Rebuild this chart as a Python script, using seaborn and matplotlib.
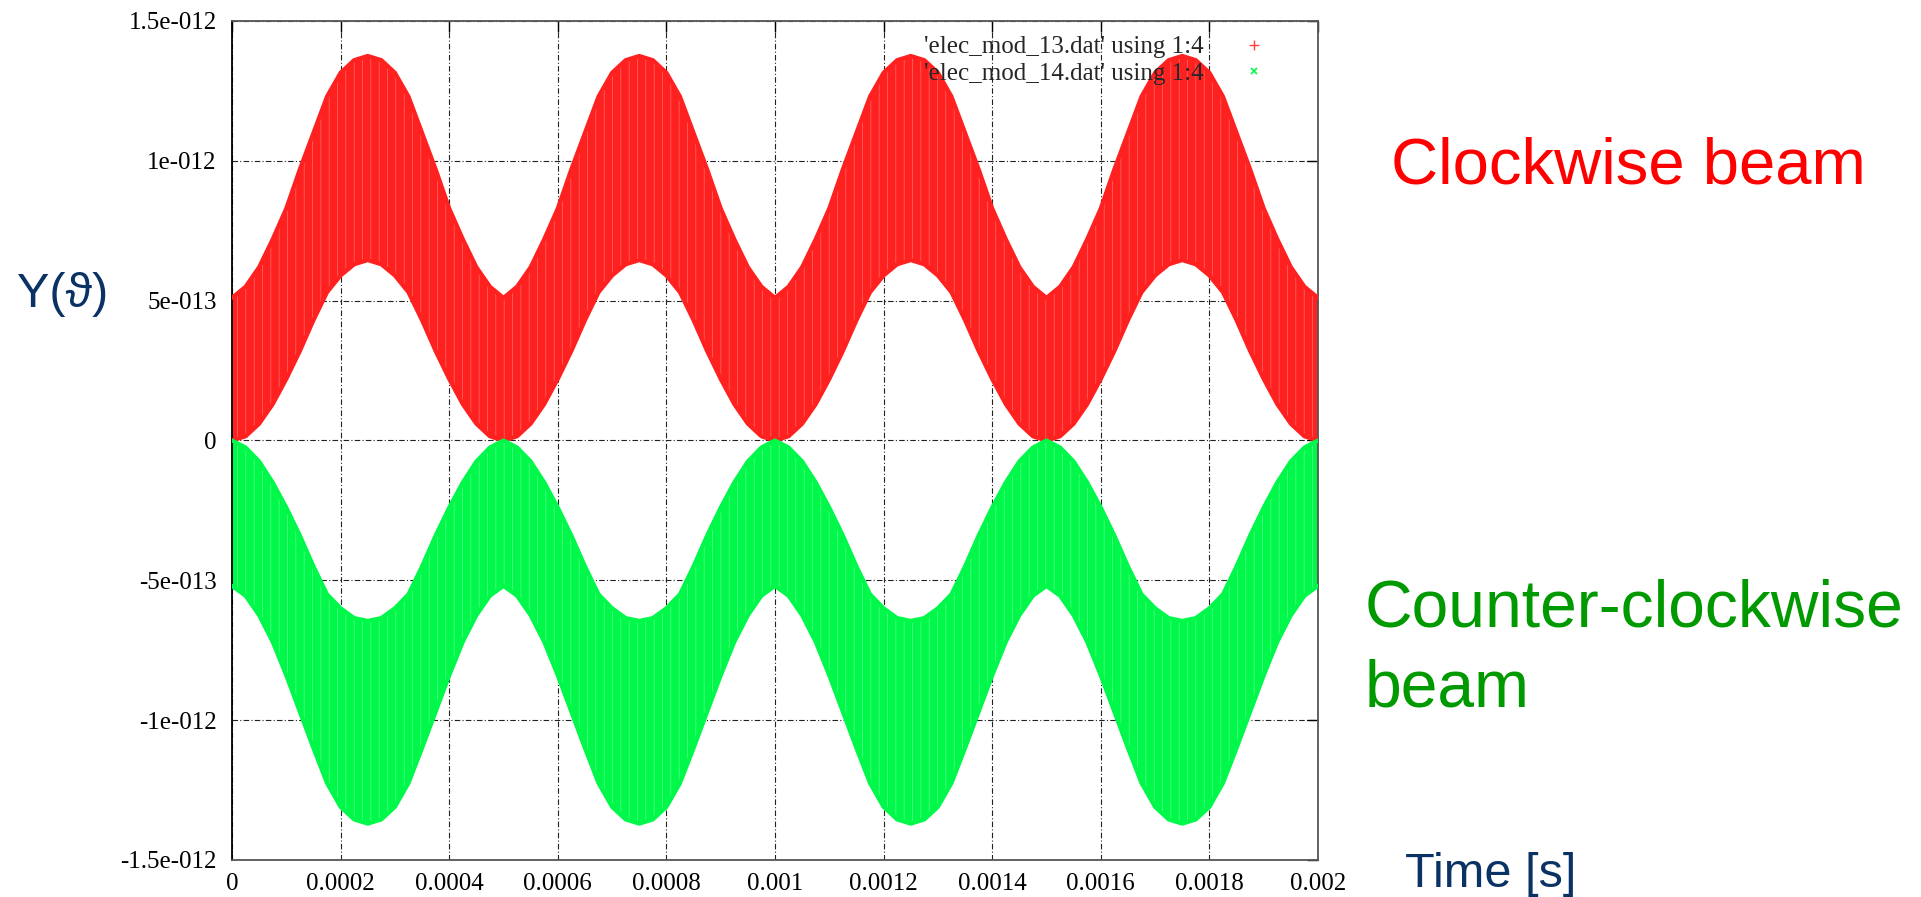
import numpy as np
import pandas as pd
import matplotlib
matplotlib.use("Agg")
import matplotlib.pyplot as plt
from matplotlib.lines import Line2D
import seaborn as sns

# ---------------- data ----------------
# time samples, in units of 1e-4 s
time_1e4 = [0.00, 0.25, 0.50, 0.75, 1.00, 1.25, 1.50, 1.75, 2.00, 2.25,
            2.50, 2.75, 3.00, 3.25, 3.50, 3.75, 4.00, 4.25, 4.50, 4.75,
            5.00, 5.25, 5.50, 5.75, 6.00, 6.25, 6.50, 6.75, 7.00, 7.25,
            7.50, 7.75, 8.00, 8.25, 8.50, 8.75, 9.00, 9.25, 9.50, 9.75,
            10.00, 10.25, 10.50, 10.75, 11.00, 11.25, 11.50, 11.75, 12.00, 12.25,
            12.50, 12.75, 13.00, 13.25, 13.50, 13.75, 14.00, 14.25, 14.50, 14.75,
            15.00, 15.25, 15.50, 15.75, 16.00, 16.25, 16.50, 16.75, 17.00, 17.25,
            17.50, 17.75, 18.00, 18.25, 18.50, 18.75, 19.00, 19.25, 19.50, 19.75,
            20.00]

# clockwise beam band (units of 1e-12)
cw_upper = [0.51, 0.55, 0.62, 0.72, 0.83, 0.97, 1.10, 1.23, 1.315, 1.36,
            1.375, 1.36, 1.315, 1.23, 1.10, 0.97, 0.83, 0.72, 0.62, 0.55,
            0.51, 0.55, 0.62, 0.72, 0.83, 0.97, 1.10, 1.23, 1.315, 1.36,
            1.375, 1.36, 1.315, 1.23, 1.10, 0.97, 0.83, 0.72, 0.62, 0.55,
            0.51, 0.55, 0.62, 0.72, 0.83, 0.97, 1.10, 1.23, 1.315, 1.36,
            1.375, 1.36, 1.315, 1.23, 1.10, 0.97, 0.83, 0.72, 0.62, 0.55,
            0.51, 0.55, 0.62, 0.72, 0.83, 0.97, 1.10, 1.23, 1.315, 1.36,
            1.375, 1.36, 1.315, 1.23, 1.10, 0.97, 0.83, 0.72, 0.62, 0.55,
            0.51]
cw_lower = [0.00, 0.015, 0.06, 0.13, 0.22, 0.32, 0.43, 0.53, 0.59, 0.63,
            0.645, 0.63, 0.59, 0.53, 0.43, 0.32, 0.22, 0.13, 0.06, 0.015,
            0.00, 0.015, 0.06, 0.13, 0.22, 0.32, 0.43, 0.53, 0.59, 0.63,
            0.645, 0.63, 0.59, 0.53, 0.43, 0.32, 0.22, 0.13, 0.06, 0.015,
            0.00, 0.015, 0.06, 0.13, 0.22, 0.32, 0.43, 0.53, 0.59, 0.63,
            0.645, 0.63, 0.59, 0.53, 0.43, 0.32, 0.22, 0.13, 0.06, 0.015,
            0.00, 0.015, 0.06, 0.13, 0.22, 0.32, 0.43, 0.53, 0.59, 0.63,
            0.645, 0.63, 0.59, 0.53, 0.43, 0.32, 0.22, 0.13, 0.06, 0.015,
            0.00]

# counter-clockwise beam band (units of 1e-12)
ccw_upper = [0.00, -0.025, -0.075, -0.15, -0.24, -0.34, -0.45, -0.55, -0.60, -0.635,
             -0.645, -0.635, -0.60, -0.55, -0.45, -0.34, -0.24, -0.15, -0.075, -0.025,
             0.00, -0.025, -0.075, -0.15, -0.24, -0.34, -0.45, -0.55, -0.60, -0.635,
             -0.645, -0.635, -0.60, -0.55, -0.45, -0.34, -0.24, -0.15, -0.075, -0.025,
             0.00, -0.025, -0.075, -0.15, -0.24, -0.34, -0.45, -0.55, -0.60, -0.635,
             -0.645, -0.635, -0.60, -0.55, -0.45, -0.34, -0.24, -0.15, -0.075, -0.025,
             0.00, -0.025, -0.075, -0.15, -0.24, -0.34, -0.45, -0.55, -0.60, -0.635,
             -0.645, -0.635, -0.60, -0.55, -0.45, -0.34, -0.24, -0.15, -0.075, -0.025,
             0.00]
ccw_lower = [-0.52, -0.555, -0.625, -0.72, -0.84, -0.97, -1.10, -1.225, -1.31, -1.355,
             -1.37, -1.355, -1.31, -1.225, -1.10, -0.97, -0.84, -0.72, -0.625, -0.555,
             -0.52, -0.555, -0.625, -0.72, -0.84, -0.97, -1.10, -1.225, -1.31, -1.355,
             -1.37, -1.355, -1.31, -1.225, -1.10, -0.97, -0.84, -0.72, -0.625, -0.555,
             -0.52, -0.555, -0.625, -0.72, -0.84, -0.97, -1.10, -1.225, -1.31, -1.355,
             -1.37, -1.355, -1.31, -1.225, -1.10, -0.97, -0.84, -0.72, -0.625, -0.555,
             -0.52, -0.555, -0.625, -0.72, -0.84, -0.97, -1.10, -1.225, -1.31, -1.355,
             -1.37, -1.355, -1.31, -1.225, -1.10, -0.97, -0.84, -0.72, -0.625, -0.555,
             -0.52]

x_ticks = [0, 0.0002, 0.0004, 0.0006, 0.0008, 0.001, 0.0012, 0.0014, 0.0016, 0.0018, 0.002]
x_tick_labels = ["0", "0.0002", "0.0004", "0.0006", "0.0008", "0.001", "0.0012",
                 "0.0014", "0.0016", "0.0018", "0.002"]
y_ticks = [1.5e-12, 1e-12, 5e-13, 0, -5e-13, -1e-12, -1.5e-12]
y_tick_labels = ["1.5e-012", "1e-012", "5e-013", "0", "-5e-013", "-1e-012", "-1.5e-012"]

legend_labels = ["'elec_mod_13.dat' using 1:4", "'elec_mod_14.dat' using 1:4"]

# ---------------- figure ----------------
sns.set_style("white")
plt.rcParams["font.family"] = ["Liberation Serif", "DejaVu Serif"]
plt.rcParams["hatch.linewidth"] = 0.5

W, H = 1921, 897
fig = plt.figure(figsize=(W / 100, H / 100), dpi=100)
L, R, T, B = 232, 1318, 21, 860
ax = fig.add_axes([L / W, 1 - B / H, (R - L) / W, (B - T) / H])

RED = "#ff2020"
GREEN = "#00f84a"

df = pd.DataFrame({
    "t": np.array(time_1e4) * 1e-4,
    "cw_up": np.array(cw_upper) * 1e-12,
    "cw_lo": np.array(cw_lower) * 1e-12,
    "ccw_up": np.array(ccw_upper) * 1e-12,
    "ccw_lo": np.array(ccw_lower) * 1e-12,
})

ax.fill_between(df["t"], df["cw_lo"], df["cw_up"], facecolor=RED,
                edgecolor="#ff7070", hatch="||", lw=0, zorder=2)
ax.fill_between(df["t"], df["ccw_lo"], df["ccw_up"], facecolor=GREEN,
                edgecolor="#60ff8c", hatch="||", lw=0, zorder=2)
for col, c in [("cw_up", RED), ("cw_lo", RED), ("ccw_up", GREEN), ("ccw_lo", GREEN)]:
    sns.lineplot(data=df, x="t", y=col, ax=ax, color=c, lw=3.0, zorder=3, legend=False)

ax.set_xlim(0, 0.002)
ax.set_ylim(-1.5e-12, 1.5e-12)
ax.set_xticks(x_ticks)
ax.set_xticklabels(x_tick_labels)
ax.set_yticks(y_ticks)
ax.set_yticklabels(y_tick_labels)
ax.set_xlabel("")
ax.set_ylabel("")

ax.tick_params(axis="both", which="major", direction="in", length=8, width=1.0,
               top=True, right=True, labelsize=18, colors="black")
ax.tick_params(axis="x", pad=9)
ax.tick_params(axis="y", pad=11)

ax.set_axisbelow(True)
ax.grid(True, color="#222222", linestyle=(0, (5, 2, 1, 2)), linewidth=0.8)
for s in ax.spines.values():
    s.set_color("#555555")
    s.set_linewidth(1.3)
    s.set_visible(True)
ax.spines["left"].set_color("black")

handles = [
    Line2D([], [], linestyle="none", marker="+", color="#ff4040", markersize=7, markeredgewidth=1),
    Line2D([], [], linestyle="none", marker="x", color=GREEN, markersize=5, markeredgewidth=1.2),
]
leg = ax.legend(handles, legend_labels, loc="upper right",
                bbox_to_anchor=((1279 - L) / (R - L), 1 - 15 / (B - T)),
                frameon=False, markerfirst=False, fontsize=18,
                handlelength=2.0, handletextpad=1.0, labelspacing=0.15,
                borderaxespad=0, borderpad=0)

# ---------------- slide annotations ----------------
sans = ["Liberation Sans", "DejaVu Sans"]
fig.text(17 / W, 1 - 307 / H, "Y(ϑ)", fontsize=35, color="#0a3264",
         family=sans, ha="left", va="baseline")
fig.text(1405 / W, 1 - 887 / H, "Time [s]", fontsize=35, color="#0a3264",
         family=sans, ha="left", va="baseline")
fig.text(1391 / W, 1 - 184 / H, "Clockwise beam", fontsize=47, color="#ff0000",
         family=sans, ha="left", va="baseline")
fig.text(1365 / W, 1 - 626 / H, "Counter-clockwise", fontsize=47.5, color="#009a00",
         family=sans, ha="left", va="baseline")
fig.text(1365 / W, 1 - 706 / H, "beam", fontsize=47.5, color="#009a00",
         family=sans, ha="left", va="baseline")

fig.savefig("out.png", dpi=100, facecolor="white")
